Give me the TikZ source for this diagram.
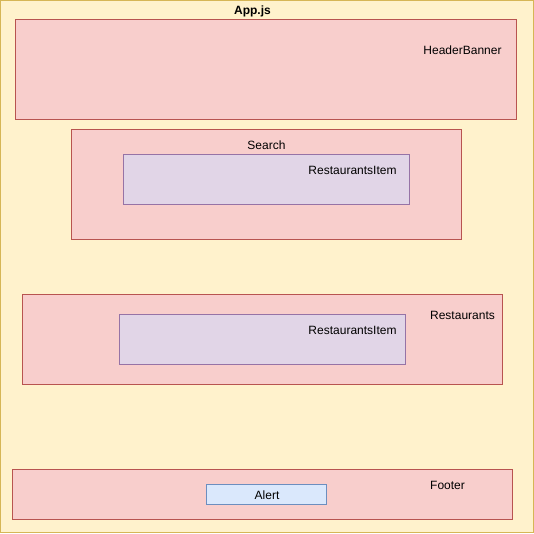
\documentclass[tikz,border=0pt]{standalone}
\usepackage{fontspec}
\setmainfont{Liberation Sans}
\definecolor{appfill}{HTML}{FFF2CC}
\definecolor{appline}{HTML}{D6B656}
\definecolor{compfill}{HTML}{F8CECC}
\definecolor{compline}{HTML}{B85450}
\definecolor{itemfill}{HTML}{E1D5E7}
\definecolor{itemline}{HTML}{9673A6}
\definecolor{alertfill}{HTML}{DAE8FC}
\definecolor{alertline}{HTML}{6C8EBF}
\begin{document}
\begin{tikzpicture}[x=1pt,y=-1pt,line width=1pt,
  box/.style={draw, rectangle, anchor=north west, inner sep=0pt, outer sep=0pt},
  comp/.style={box, fill=compfill, draw=compline},
  item/.style={box, fill=itemfill, draw=itemline},
  alertbox/.style={box, fill=alertfill, draw=alertline},
  lbl/.style={font=\fontsize{12}{14}\selectfont, inner sep=0pt}]
  \tikzstyle{every node}=[font=\fontsize{12}{14}\selectfont]
  % outer app frame
  \node[box, fill=appfill, draw=appline, minimum width=533pt, minimum height=532pt] (app) at (0.5,0.5) {};
  \node[lbl, font=\fontsize{12}{14}\selectfont\bfseries] (applbl) at (252.5,11) {App.js};
  % header
  \node[comp, minimum width=501pt, minimum height=100pt] (header) at (15.5,19.5) {};
  \node[lbl] (headerlbl) at (462.5,50) {HeaderBanner};
  % search
  \node[comp, minimum width=390pt, minimum height=110pt] (search) at (71.5,129.5) {};
  \node[lbl] (searchlbl) at (266.5,145) {Search};
  \node[item, minimum width=286pt, minimum height=50pt] (searchitem) at (123.5,154.5) {};
  \node[lbl] (searchitemlbl) at (352.5,170) {RestaurantsItem};
  % restaurants
  \node[comp, minimum width=480pt, minimum height=90pt] (rest) at (22.5,294.5) {};
  \node[lbl] (restlbl) at (462.5,315) {Restaurants};
  \node[item, minimum width=286pt, minimum height=50pt] (restitem) at (119.5,314.5) {};
  \node[lbl] (restitemlbl) at (352.5,330) {RestaurantsItem};
  % footer
  \node[comp, minimum width=500pt, minimum height=50pt] (footer) at (12.5,469.5) {};
  \node[lbl] (footerlbl) at (447.5,485) {Footer};
  \node[alertbox, minimum width=120pt, minimum height=20pt] (alert) at (206.5,484.5) {};
  \node[lbl] (alertlbl) at ([shift={(0.5,1)}]alert.center) {Alert};
\end{tikzpicture}
\end{document}
